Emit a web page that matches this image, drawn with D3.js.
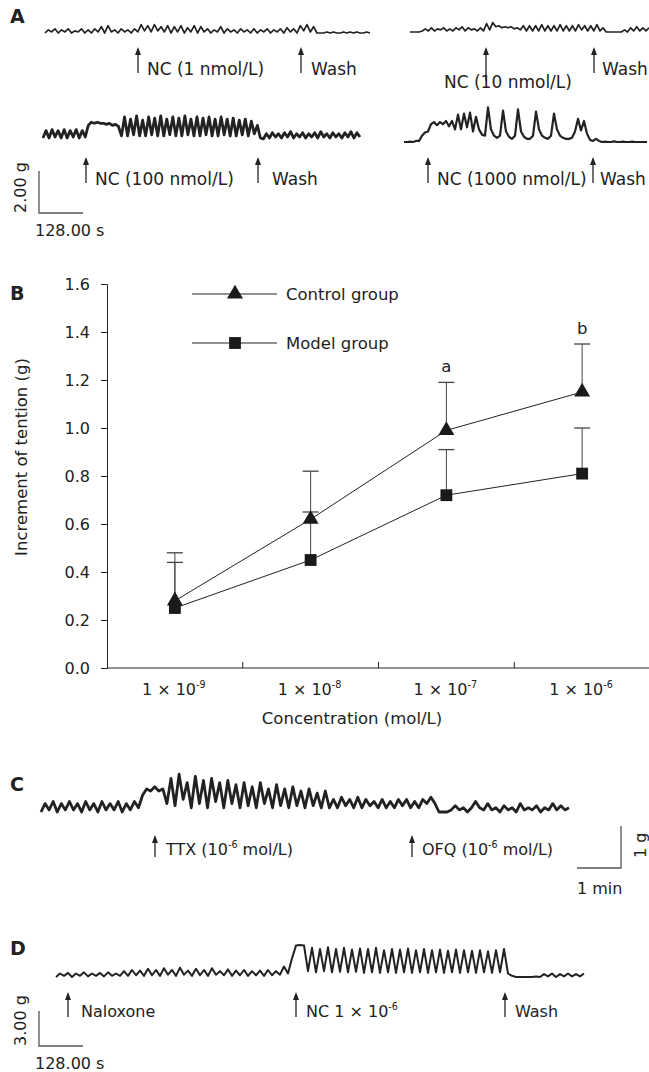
<!DOCTYPE html>
<html>
<head>
<meta charset="utf-8">
<script src="https://cdn.jsdelivr.net/npm/d3@7"></script>
<style>
body{margin:0;background:#fff;}
text{font-family:"DejaVu Sans",Verdana,sans-serif;fill:#222;}
</style>
</head>
<body>
<script>
// panel B: dose response
let concExp = ["-9","-8","-7","-6"];
let controlMean = [0.28,0.62,0.99,1.15];
let controlUpper = [0.48,0.82,1.19,1.35];
let modelMean = [0.25,0.45,0.72,0.81];
let modelUpper = [0.44,0.65,0.91,1.00];
let sigMarks = ["","","a","b"];
let yTicks = [0,0.2,0.4,0.6,0.8,1.0,1.2,1.4,1.6];

// recordings, tension in g above each trace's resting line, equal time steps
let traceA1 = [0,0.15,0.05,0.2,0,0.15,0.05,0.2,0,0.1,0.05,0.2,0,0.15,0,0.2,0.05,0.3,0,0.35,0.05,0.15,0,0.2,0.05,0.15,0,0.2,
  0.05,0.4,0.1,0.35,0.05,0.4,0.1,0.3,0.05,0.35,0,0.3,0.05,0.35,0,0.25,0.05,0.35,0,
  0.3,0.05,0.2,0,0.15,0.05,0.3,0,0.2,0.05,0.15,0,0.2,0.05,0.15,0,0.2,0,0.15,0.05,0.2,0,0.15,0.05,0.2,0,0.25,0.05,0.2,0,
  0.35,0.1,0.4,0.05,0.3,0,
  0,0,0.05,0,0.05,0,0,0.05,0,0.05,0,0.05,0,0,0.05,0];
let traceA2 = [0,0,0,0,
  0.05,0.15,0.05,0.2,0.05,0.15,0.1,0.2,0.05,0.15,0.05,0.2,0.1,0.25,0.05,0.2,0.1,0.15,0.05,0.2,0.05,
  0.4,0.1,0.45,0.25,0.3,0.2,0.25,0.2,0.25,0.15,0.2,0.1,
  0.3,0.05,0.3,0.05,0.3,0.05,0.35,0.05,0.3,0.05,0.3,0.05,0.35,0.05,0.3,0.05,0.3,0.05,0.35,0.1,0.3,0.05,0.3,0.05,0.35,0.05,0.2,0,
  0,0,0,0,0,
  0.1,0,0.2,0.05,0.25,0.05,0.2,0.05,0.2];
let traceA3 = [0,0.35,0,0.4,0.05,0.35,0,0.4,0,0.35,0.05,0.4,0,0.35,0.05,
  0.6,0.75,0.7,0.75,0.7,0.7,0.65,0.7,0.6,0.65,0.55,
  0.1,1.0,0.1,0.9,0.15,1.05,0.1,0.85,0.1,1.0,0.15,0.95,0.1,1.05,0.1,0.9,0.15,1.0,0.1,0.95,0.1,1.05,0.15,0.9,0.1,1.0,0.1,0.95,0.15,1.0,0.1,0.9,0.1,1.0,0.15,0.9,0.1,0.95,0.1,0.85,0.15,0.9,0.1,0.8,0.2,0.6,
  0,-0.05,
  0.2,0,0.25,0.05,0.2,0,0.25,0.05,0.3,0,0.2,0.05,0.25,0,0.2,0.05,0.25,0,0.3,0.05,0.2,0,0.25,0.05,0.2,0,0.25,0.05,0.3,0,0.25,0.05];
let traceA4 = [0,0,0.02,0,0.05,0.05,0.3,0.45,0.5,0.85,0.95,0.8,0.95,0.85,1.0,0.75,1.0,0.6,1.3,0.6,1.35,0.7,1.4,0.5,1.2,0.6,
  0.35,0.3,1.65,0.6,0.3,0.2,0.3,1.5,0.5,0.25,0.15,0.3,1.55,0.5,0.25,0.15,0.15,0.3,1.45,0.6,0.3,0.2,0.15,0.3,1.35,0.6,0.3,0.2,
  0.15,0.15,0.2,0.5,1.1,0.55,1.0,0.4,0.1,0.05,0.15,0.05,
  0,0.02,0,0,0.03,0,0,0.02,0,0,0.02,0,0,0,0,0];
let traceC = [0,0.2,0.05,0.25,0,0.2,0.05,0.25,0.05,0.2,0,0.25,0.05,0.2,0,0.25,0.05,0.2,0.05,0.25,0,0.2,0.05,0.25,0.1,
  0.4,0.55,0.5,0.6,0.5,0.55,
  0.2,0.8,0.15,0.9,0.3,0.7,0.1,0.85,0.2,0.75,0.1,0.8,0.25,0.7,0.1,0.75,0.2,0.65,0.1,0.7,0.15,0.6,0.1,0.7,0.2,0.55,0.1,0.65,0.15,0.55,0.1,0.6,0.15,0.5,0.1,0.55,0.15,0.45,0.1,0.5,0.1,
  0.3,0.1,0.35,0.15,0.3,0.1,0.35,0.1,0.3,0.15,0.25,0.1,0.3,0.1,0.25,0.1,0.3,0.15,0.3,0.1,0.25,0.1,0.3,0.2,0.35,
  0.2,0,
  0,0,0.05,0.15,0.05,0.1,0,0.1,0.25,0.1,0.05,0.2,0.05,0.1,0,0.15,0.05,0.1,0,0.2,0.05,0.1,0.05,0.15,0,0.1,0.05,0.2,0.05,0.15,0.05,0.1];
let traceD = [0,0.3,0.1,0.35,0,0.3,0.1,0.4,0.05,0.3,0.1,0.35,0.05,0.4,0.1,0.3,
  0.1,0.5,0.1,0.6,0.15,0.55,0.1,0.7,0.15,0.6,0.1,0.75,0.2,0.6,0.1,0.8,0.2,0.55,0.1,0.7,0.15,0.6,0.1,0.75,0.2,0.5,0.15,0.65,0.1,0.55,0.15,0.6,0.1,0.5,0.15,0.55,0.1,0.6,0.15,0.5,0.2,0.9,
  0.3,1.6,2.7,2.75,2.7,
  0.5,2.5,0.4,2.4,0.5,2.55,0.4,2.4,0.45,2.5,0.4,2.35,0.45,2.45,0.35,2.4,0.4,2.5,0.35,2.3,0.4,2.4,0.35,2.35,0.4,2.45,0.35,2.3,0.4,2.4,0.35,2.3,0.4,2.35,0.35,2.25,0.4,2.35,0.35,2.3,0.4,2.25,0.35,2.3,0.4,2.2,0.35,2.3,0.4,2.4,0.3,
  0.1,0,0,0,0,0,0.05,0,0.25,0.05,0.3,0,0.25,0.05,0.3,0.05,0.25,0.05,0.3];

let width = 649, height = 1072;
let svg = d3.select("body").append("svg").attr("width",width).attr("height",height);

function drawTrace(values, x0, x1, base, pxPerG, sw){
  let x = d3.scaleLinear().domain([0, values.length-1]).range([x0, x1]);
  let y = d3.scaleLinear().domain([0, 1]).range([base, base - pxPerG]);
  svg.append("path").datum(values)
    .attr("d", d3.line().x((d,i)=>x(i)).y(d=>y(d)))
    .attr("fill","none").attr("stroke","#222").attr("stroke-width",sw)
    .attr("stroke-linejoin","round");
}

function arrow(x, top, bottom){
  svg.append("line").attr("x1",x).attr("x2",x).attr("y1",top+2).attr("y2",bottom)
    .attr("stroke","#222").attr("stroke-width",1.3);
  svg.append("path").attr("d",`M${x},${top} L${x-3},${top+8} L${x+3},${top+8} Z`).attr("fill","#222");
}

function label(x, y, parts, size){
  let t = svg.append("text").attr("x",x).attr("y",y).attr("font-size",size);
  parts.forEach(p=>{
    if (p.sup) t.append("tspan").attr("dy",-7).attr("font-size",size*0.6).text(p.sup);
    else t.append("tspan").attr("dy",p.after ? 7 : 0).text(p.t);
  });
  return t;
}

function scaleBar(xl, yb, vLen, hLen, vText, hText, vx, hy){
  svg.append("path").attr("d",`M${xl},${yb-vLen} V${yb} H${xl+hLen}`)
    .attr("fill","none").attr("stroke","#555").attr("stroke-width",1.3);
  svg.append("text").attr("transform",`translate(${vx},${yb}) rotate(-90)`).attr("font-size",16).text(vText);
  svg.append("text").attr("x",xl-4).attr("y",hy).attr("font-size",16).text(hText);
}

function panelLetter(t, x, y){
  svg.append("text").attr("x",x).attr("y",y).attr("font-size",19).attr("font-weight","bold").text(t);
}

// ---------- A ----------
let gA = 21; // px per g
let tA = d3.scaleLinear().domain([0,128]).range([0,44]);
panelLetter("A",10,23);
drawTrace(traceA1, 45, 370, 33, gA, 1.7);
drawTrace(traceA2, 410, 649, 32, gA, 1.7);
drawTrace(traceA3, 43, 360, 138, gA, 2.8);
drawTrace(traceA4, 404, 647, 142, gA, 2.2);
arrow(138,47,73); label(147,75,[{t:"NC (1 nmol/L)"}],17);
arrow(301,47,73); label(311,75,[{t:"Wash"}],17);
arrow(486,47,81); label(444,88,[{t:"NC (10 nmol/L)"}],17);
arrow(594,47,73); label(602,75,[{t:"Wash"}],17);
arrow(86,157,183); label(95,185,[{t:"NC (100 nmol/L)"}],17);
arrow(258,157,183); label(272,185,[{t:"Wash"}],17);
arrow(428,157,183); label(437,185,[{t:"NC (1000 nmol/L)"}],17);
arrow(593,157,183); label(600,185,[{t:"Wash"}],17);
scaleBar(39, 213, 2*gA, tA(128), "2.00 g", "128.00 s", 26, 236);

// ---------- B ----------
panelLetter("B",10,300);
let bx = d3.scaleBand().domain(concExp).range([107,650]);
let by = d3.scaleLinear().domain([0,1.6]).range([668,284]);
let cx = d=>bx(d)+bx.bandwidth()/2;

let yAxis = svg.append("g").attr("transform","translate(107,0)")
  .call(d3.axisLeft(by).tickValues(yTicks).tickFormat(d3.format(".1f")).tickSize(6).tickPadding(11));
yAxis.selectAll("text").attr("font-size",16).attr("font-family",null).attr("dy","0.36em");
yAxis.selectAll("line,path").attr("stroke","#222");

svg.append("line").attr("x1",107).attr("x2",650).attr("y1",668).attr("y2",668).attr("stroke","#222");
svg.selectAll(".xtick").data(concExp.slice(1)).join("line").attr("class","xtick")
  .attr("x1",d=>bx(d)).attr("x2",d=>bx(d)).attr("y1",668).attr("y2",662).attr("stroke","#222");
concExp.forEach(e=>{
  label(cx(e)-33, 695, [{t:"1 × 10"},{sup:e},{t:"",after:true}], 16);
});
svg.append("text").attr("x",352).attr("y",724).attr("text-anchor","middle").attr("font-size",16.5).text("Concentration (mol/L)");
svg.append("text").attr("transform","translate(27,457) rotate(-90)").attr("text-anchor","middle").attr("font-size",16.5).text("Increment of tention (g)");

function errorBars(mean, upper){
  concExp.forEach((e,i)=>{
    svg.append("line").attr("x1",cx(e)).attr("x2",cx(e)).attr("y1",by(mean[i])).attr("y2",by(upper[i])).attr("stroke","#444");
    svg.append("line").attr("x1",cx(e)-8).attr("x2",cx(e)+8).attr("y1",by(upper[i])).attr("y2",by(upper[i])).attr("stroke","#444").attr("stroke-width",1.3);
  });
}
errorBars(controlMean, controlUpper);
errorBars(modelMean, modelUpper);

let lineGen = d3.line().x((d,i)=>cx(concExp[i])).y(d=>by(d));
svg.append("path").datum(controlMean).attr("d",lineGen).attr("fill","none").attr("stroke","#222");
svg.append("path").datum(modelMean).attr("d",lineGen).attr("fill","none").attr("stroke","#222");

let tri = d3.symbol().type(d3.symbolTriangle).size(110);
let sq = d3.symbol().type(d3.symbolSquare).size(140);
svg.selectAll(".tri").data(controlMean).join("path").attr("class","tri")
  .attr("d",tri).attr("transform",(d,i)=>`translate(${cx(concExp[i])},${by(d)})`).attr("fill","#1a1a1a");
svg.selectAll(".sq").data(modelMean).join("path").attr("class","sq")
  .attr("d",sq).attr("transform",(d,i)=>`translate(${cx(concExp[i])},${by(d)})`).attr("fill","#1a1a1a");

sigMarks.forEach((m,i)=>{
  if (m) svg.append("text").attr("x",cx(concExp[i])).attr("y",by(controlUpper[i])-10)
    .attr("text-anchor","middle").attr("font-size",16.5).text(m);
});

// legend
[["Control group",tri,294],["Model group",sq,343]].forEach(l=>{
  svg.append("line").attr("x1",192).attr("x2",277).attr("y1",l[2]).attr("y2",l[2]).attr("stroke","#222");
  svg.append("path").attr("d",l[1]).attr("transform",`translate(235,${l[2]})`).attr("fill","#1a1a1a");
  svg.append("text").attr("x",286).attr("y",l[2]).attr("dy","0.36em").attr("font-size",16.5).text(l[0]);
});

// ---------- C ----------
let gC = 42;
let tC = d3.scaleLinear().domain([0,60]).range([0,44]);
panelLetter("C",10,791);
drawTrace(traceC, 41, 569, 812, gC, 2.8);
arrow(155,835,857); label(166,855,[{t:"TTX (10"},{sup:"-6"},{t:" mol/L)",after:true}],16);
arrow(412,835,857); label(422,855,[{t:"OFQ (10"},{sup:"-6"},{t:" mol/L)",after:true}],16);
svg.append("path").attr("d",`M621,${868-gC} V868 H${621-tC(60)}`).attr("fill","none").attr("stroke","#555").attr("stroke-width",1.3);
svg.append("text").attr("transform","translate(646,858) rotate(-90)").attr("font-size",16).text("1 g");
svg.append("text").attr("x",577).attr("y",894).attr("font-size",16).text("1 min");

// ---------- D ----------
let gD = 35/3;
panelLetter("D",10,955);
drawTrace(traceD, 56, 584, 977, gD, 2);
arrow(68,992,1017); label(81,1017,[{t:"Naloxone"}],16);
arrow(296,992,1017); label(306,1017,[{t:"NC 1 × 10"},{sup:"-6"}],16);
arrow(505,992,1017); label(515,1017,[{t:"Wash"}],16);
scaleBar(39, 1046, 3*gD, tA(128), "3.00 g", "128.00 s", 26, 1069);
</script>
</body>
</html>
